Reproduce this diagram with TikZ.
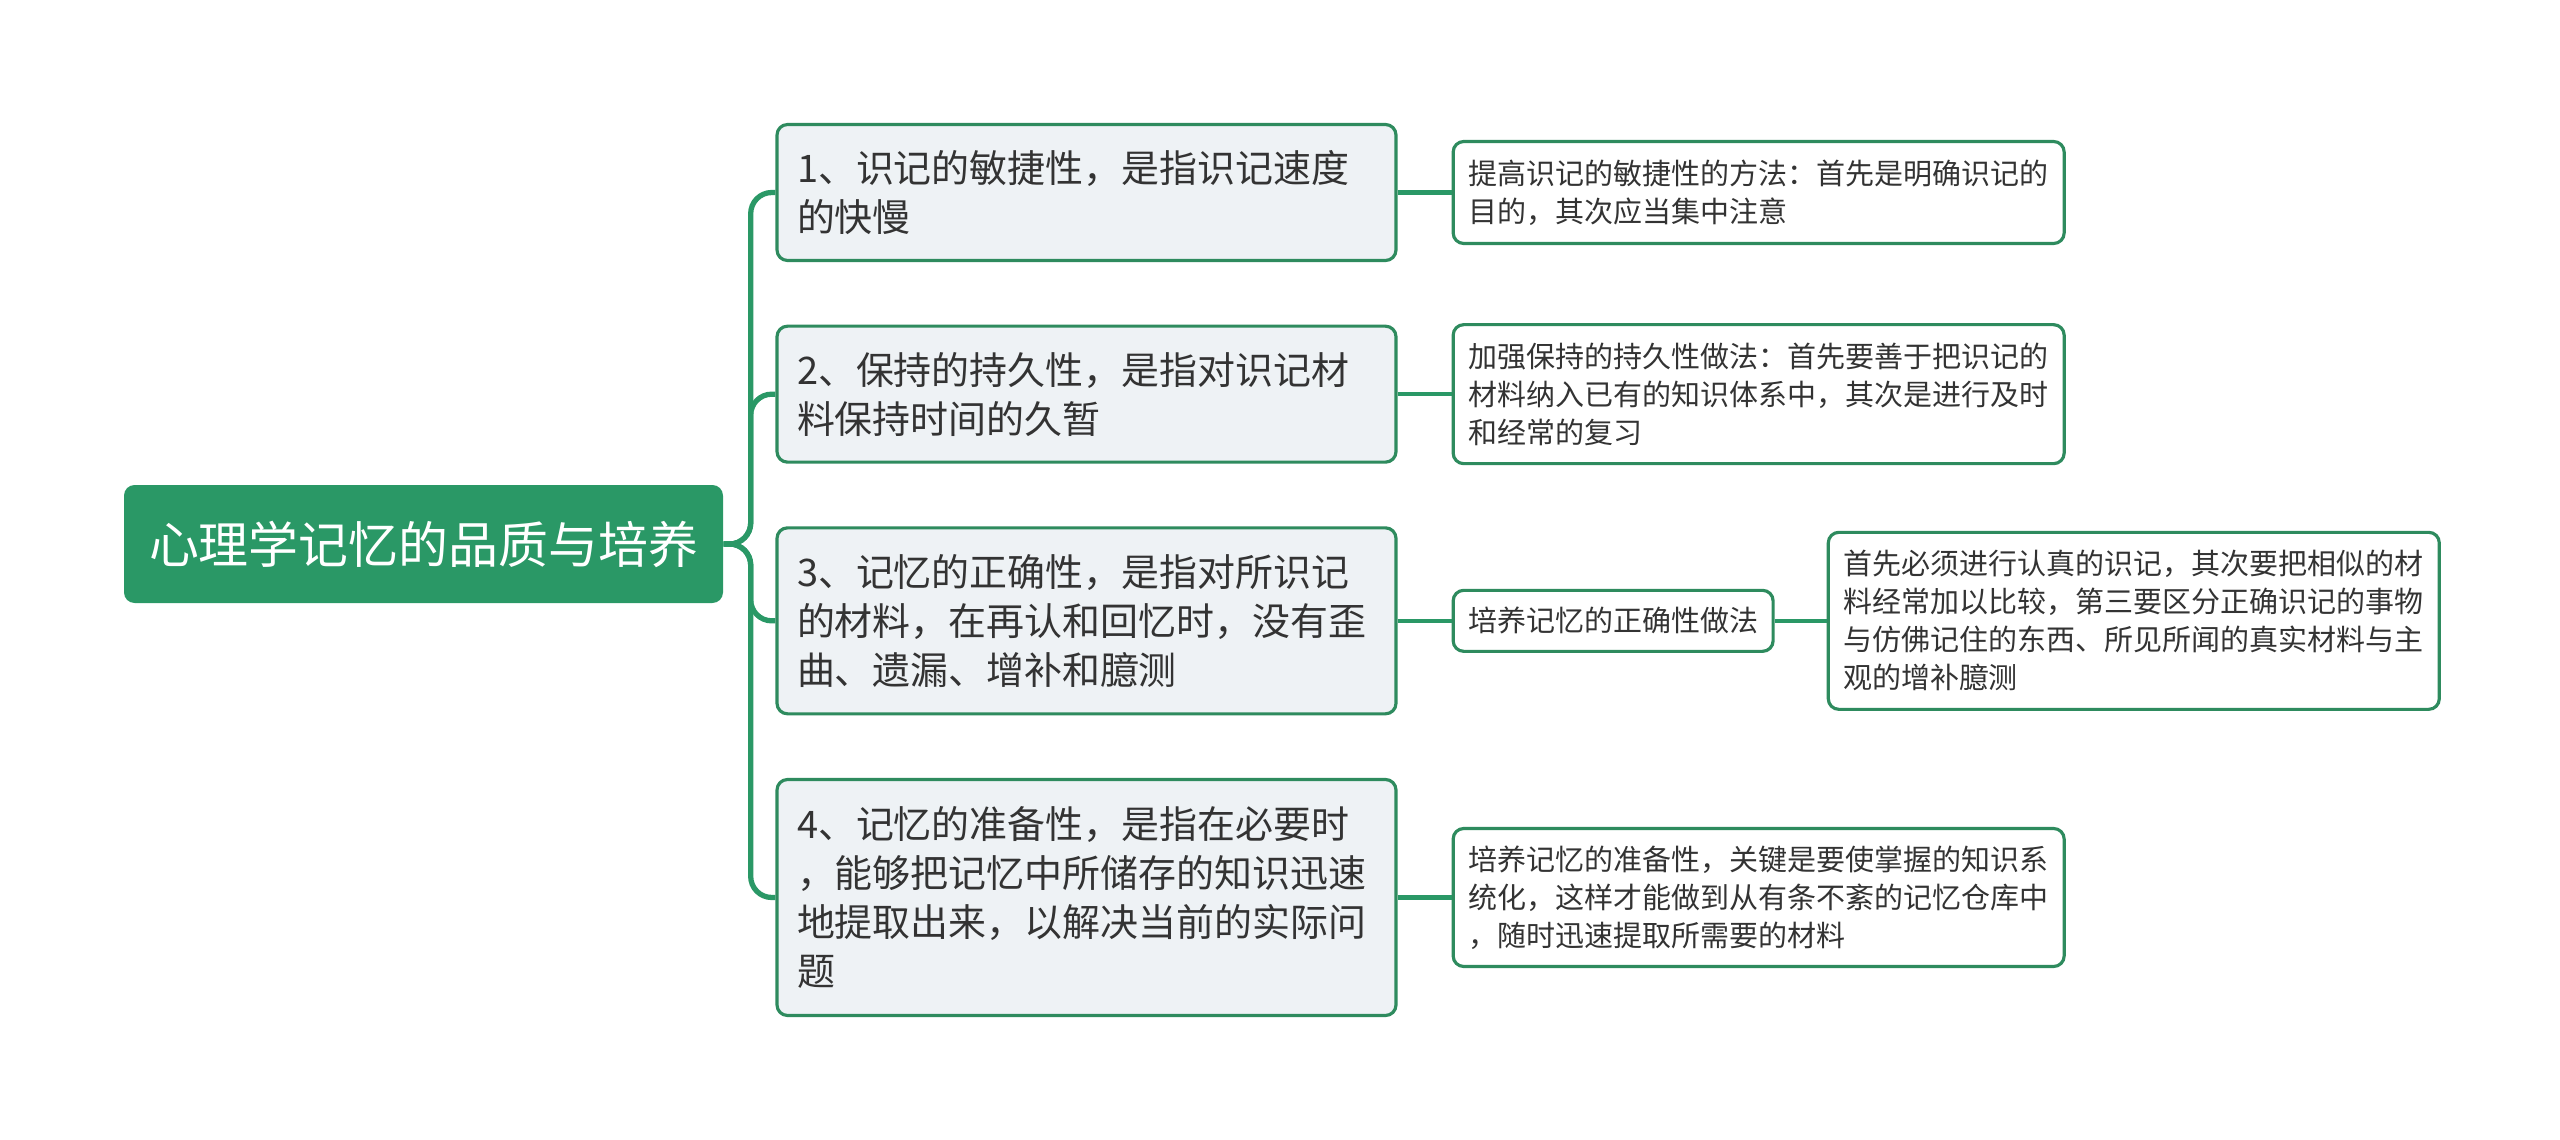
\documentclass[tikz,border=0pt]{standalone}
\usepackage{fontspec}
\setmainfont{Noto Sans CJK SC}
\usetikzlibrary{positioning}
\definecolor{mapgreen}{RGB}{42,152,102}
\definecolor{boxgreen}{RGB}{46,139,94}
\definecolor{topicfill}{RGB}{238,242,245}
\definecolor{inktext}{RGB}{51,51,51}
\tikzset{
  rootbox/.style={fill=mapgreen, text=white, rounded corners=3pt, minimum width=5.99cm, minimum height=1.18cm, font=\fontsize{14.2pt}{17pt}\selectfont},
  topicbox/.style={draw=boxgreen, line width=0.9pt, fill=topicfill, rounded corners=3pt, text=inktext, align=left, text width=5.79cm, inner xsep=0.2cm, inner ysep=0pt, font=\fontsize{10.8pt}{13.9pt}\selectfont},
  notebox/.style={draw=boxgreen, line width=0.9pt, fill=white, rounded corners=3pt, text=inktext, align=left, text width=5.81cm, inner xsep=0.15cm, inner ysep=0pt, font=\fontsize{8.25pt}{10.8pt}\selectfont},
  notetag/.style={draw=boxgreen, line width=0.9pt, fill=white, rounded corners=3pt, text=inktext, inner xsep=0.15cm, inner ysep=0pt, font=\fontsize{8.25pt}{10.8pt}\selectfont},
  linkline/.style={draw=mapgreen, line width=1.5pt, rounded corners=6pt},
  notelink/.style={draw=mapgreen, line width=1.3pt},
}
\begin{document}
\begin{tikzpicture}[node distance=0.625cm]
    \useasboundingbox (0,0) rectangle (25.6,11.39);
    \node[rootbox] (root) at (4.235,5.95) {心理学记忆的品质与培养};
    % four qualities
    \node[topicbox, minimum height=1.36cm] (q1) at (10.865,9.465) {1、识记的敏捷性，是指识记速度\\的快慢};
    \node[topicbox, minimum height=1.36cm, below=of q1] (q2) {2、保持的持久性，是指对识记材\\料保持时间的久暂};
    \node[topicbox, minimum height=1.86cm, below=of q2] (q3) {3、记忆的正确性，是指对所识记\\的材料，在再认和回忆时，没有歪\\曲、遗漏、增补和臆测};
    \node[topicbox, minimum height=2.36cm, below=of q3] (q4) {4、记忆的准备性，是指在必要时\\，能够把记忆中所储存的知识迅速\\地提取出来，以解决当前的实际问\\题};
    % notes
    \node[notebox, minimum height=1.02cm, right=0.54cm of q1] (n1) {提高识记的敏捷性的方法：首先是明确识记的\\目的，其次应当集中注意};
    \node[notebox, minimum height=1.39cm, right=0.54cm of q2] (n2) {加强保持的持久性做法：首先要善于把识记的\\材料纳入已有的知识体系中，其次是进行及时\\和经常的复习};
    \node[notetag, minimum height=0.61cm, right=0.54cm of q3] (n3) {培养记忆的正确性做法};
    \node[notebox, minimum height=1.77cm, right=0.52cm of n3] (d3) {首先必须进行认真的识记，其次要把相似的材\\料经常加以比较，第三要区分正确识记的事物\\与仿佛记住的东西、所见所闻的真实材料与主\\观的增补臆测};
    \node[notebox, minimum height=1.38cm, right=0.54cm of q4] (n4) {培养记忆的准备性，关键是要使掌握的知识系\\统化，这样才能做到从有条不紊的记忆仓库中\\，随时迅速提取所需要的材料};
    \foreach \q in {q1,q2,q3,q4}
      \draw[linkline] (root.east) -- ++(0.27,0) |- (\q.west);
    \draw[notelink] (q1) -- (n1);
    \draw[notelink] (q2) -- (n2);
    \draw[notelink] (q3) -- (n3);
    \draw[notelink] (n3) -- (d3);
    \draw[notelink] (q4) -- (n4);
\end{tikzpicture}
\end{document}
